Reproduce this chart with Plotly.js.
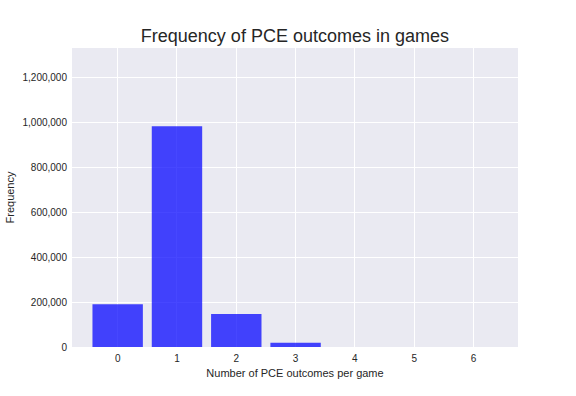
<!DOCTYPE html>
<html><head><meta charset="utf-8">
<script src="https://cdn.plot.ly/plotly-3.0.1.min.js"></script>
<style>html,body{margin:0;padding:0;background:#fff}</style>
</head><body>
<div id="chart" style="width:576px;height:396px"></div>
<script>
const outcomes = [0, 1, 2, 3, 4, 5, 6];
const frequency = [191000, 984000, 147000, 19000, 300, 15, 1];
const yTicks = [0, 200000, 400000, 600000, 800000, 1000000, 1200000];
const yTickText = ["0", "200,000", "400,000", "600,000", "800,000", "1,000,000", "1,200,000"];

Plotly.newPlot("chart", [{
  type: "bar",
  x: outcomes,
  y: frequency,
  width: 0.85,
  marker: {color: "rgba(0,0,255,0.72)", line: {width: 0}},
  hoverinfo: "none"
}], {
  width: 576, height: 396,
  margin: {l: 72, r: 58, t: 48, b: 49},
  paper_bgcolor: "#ffffff",
  plot_bgcolor: "#EAEAF2",
  font: {family: "Liberation Sans, Arial, sans-serif", color: "#262626", size: 10},
  title: {text: "Frequency of PCE outcomes in games", x: 0.512, xanchor: "center", y: 0.91, yanchor: "middle",
          font: {size: 18, color: "#262626"}},
  showlegend: false,
  xaxis: {
    range: [-0.77, 6.75],
    tickvals: outcomes,
    ticktext: outcomes.map(String),
    showgrid: true, gridcolor: "#ffffff", gridwidth: 1,
    zeroline: false, showline: false, ticks: "",
    ticklabelstandoff: 4,
    title: {text: "Number of PCE outcomes per game", font: {size: 11}, standoff: 6}
  },
  yaxis: {
    range: [0, 1333000],
    tickvals: yTicks,
    ticktext: yTickText,
    showgrid: true, gridcolor: "#ffffff", gridwidth: 1,
    zeroline: false, showline: false, ticks: "",
    ticklabelstandoff: 4,
    title: {text: "Frequency", font: {size: 11}, standoff: 5}
  }
}, {staticPlot: true, displayModeBar: false});
</script>
</body></html>
